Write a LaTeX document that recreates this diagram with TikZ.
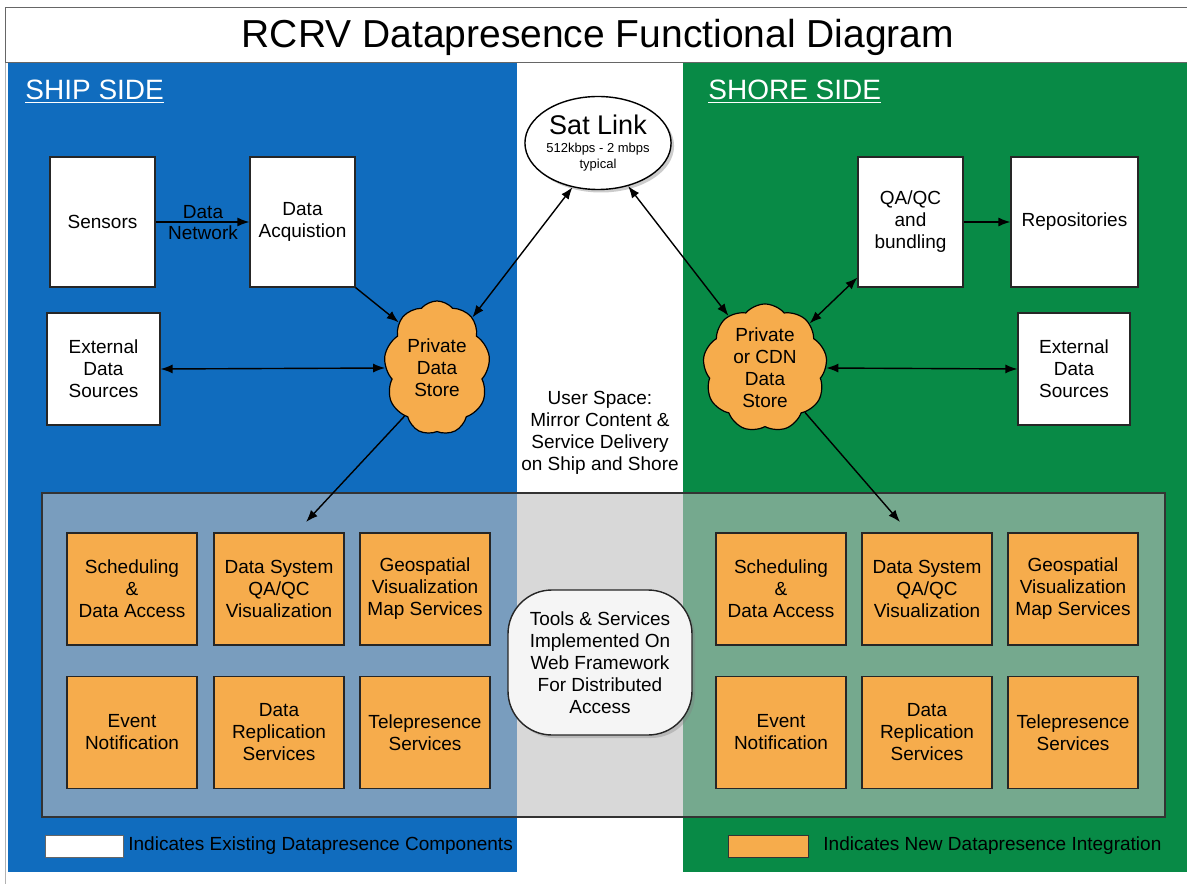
\documentclass[tikz,border=0pt]{standalone}
\usepackage{fontspec}
\setmainfont{Liberation Sans}
\usetikzlibrary{shapes.geometric,shapes.symbols,arrows.meta,shadows,calc}
\definecolor{shipblue}{RGB}{16,108,190}
\definecolor{shoregreen}{RGB}{8,138,70}
\definecolor{neworange}{RGB}{246,172,76}
\begin{document}
\begin{tikzpicture}[x=0.5pt,y=-0.5pt,
  txt/.style={font=\fontsize{9.5}{11}\selectfont, align=center},
  wbox/.style={txt, draw=black!85, line width=0.6pt, fill=white, inner sep=1pt},
  obox/.style={txt, draw=black!85, line width=0.6pt, fill=neworange, minimum width=65pt, minimum height=56pt, inner sep=1pt},
  store/.style={txt, cloud, cloud puffs=9, cloud puff arc=100, draw=black, line width=0.6pt, fill=neworange, inner sep=0pt},
  arr/.style={-{Latex[length=6pt,width=4.5pt]}, line width=0.7pt},
  darr/.style={{Latex[length=6pt,width=4.5pt]}-{Latex[length=6pt,width=4.5pt]}, line width=0.7pt},
  side/.style={font=\fontsize{14}{16}\selectfont, text=white, anchor=west, inner sep=0pt}]

\useasboundingbox (0,0) rectangle (1187,887);
\fill[white] (0,0) rectangle (1187,887);

% regions
\fill[shipblue] (8,63) rectangle (517,872);
\fill[shoregreen] (683,63) rectangle (1192,872);
\draw[black!60, line width=0.5pt] (5,8) rectangle (1195,63);
\draw[black!30, line width=0.5pt] (5,63) -- (5,884);
\node[font=\fontsize{19.5}{22}\selectfont] (title) at (598,37) {RCRV Datapresence Functional Diagram};

\node[side] (ship) at (25,92) {\underline{SHIP SIDE}};
\node[side] (shore) at (708,92) {\underline{SHORE SIDE}};

% sat link
\node[ellipse, draw=black, line width=0.7pt, fill=white, minimum width=66.5pt, minimum height=46.5pt, inner sep=0pt, align=center,
      drop shadow={shadow xshift=1.5pt, shadow yshift=-1.5pt, opacity=0.4},
      font=\fontsize{6.5}{8}\selectfont] (satlink) at (598,143)
  {{\fontsize{13.5}{15}\selectfont Sat Link}\\[1pt]512kbps - 2 mbps\\typical};

% ship side boxes
\node[wbox, minimum width=52.5pt, minimum height=65pt] (sensors) at (102.5,222) {Sensors};
\node[wbox, minimum width=52.5pt, minimum height=65pt] (dacq) at (302.5,222) {Data\\Acquistion};
\node[wbox, minimum width=56.5pt, minimum height=56pt] (extL) at (103.5,369) {External\\Data\\Sources};
\node[store, minimum width=53pt, minimum height=67pt] (cloudL) at (437,368) {Private\\Data\\Store};

% shore side boxes
\node[wbox, minimum width=52.5pt, minimum height=65pt] (qaqc) at (910.5,222) {QA/QC\\and\\bundling};
\node[wbox, minimum width=63.5pt, minimum height=65pt] (repo) at (1074.5,222) {Repositories};
\node[wbox, minimum width=56pt, minimum height=56pt] (extR) at (1074,369) {External\\Data\\Sources};
\node[store, minimum width=51pt, minimum height=64pt] (cloudR) at (765,368) {Private\\or CDN\\Data\\Store};

% middle text
\node[txt] (userspace) at (600,433) {User Space:\\Mirror Content \&\\Service Delivery\\on Ship and Shore};

% services frame
\node[draw=black!80, line width=0.7pt, fill=black!25, fill opacity=0.6, minimum width=561.5pt, minimum height=162pt, inner sep=0pt] (frame) at (603.5,655) {};

% service boxes ship
\node[obox] (schedL) at (132,589) {Scheduling\\\&\\Data Access};
\node[obox] (dsysL) at (279,589) {Data System\\QA/QC\\Visualization};
\node[obox] (geoL) at (425,589) {Geospatial\\Visualization\\Map Services};
\node[obox] (eventL) at (132,732.5) {Event\\Notification};
\node[obox] (replL) at (279,732.5) {Data\\Replication\\Services};
\node[obox] (teleL) at (425,732.5) {Telepresence\\Services};

% service boxes shore
\node[obox] (schedR) at (781,589) {Scheduling\\\&\\Data Access};
\node[obox] (dsysR) at (927,589) {Data System\\QA/QC\\Visualization};
\node[obox] (geoR) at (1073,589) {Geospatial\\Visualization\\Map Services};
\node[obox] (eventR) at (781,732.5) {Event\\Notification};
\node[obox] (replR) at (927,732.5) {Data\\Replication\\Services};
\node[obox] (teleR) at (1073,732.5) {Telepresence\\Services};

% tools box
\node[txt, draw=black!85, line width=0.7pt, fill=black!4, rounded corners=22pt, minimum width=92pt, minimum height=72.5pt, inner sep=0pt,
      drop shadow={shadow xshift=1.5pt, shadow yshift=-1.5pt, opacity=0.35}] (tools) at (600,662.5)
  {Tools \& Services\\Implemented On\\Web Framework\\For Distributed\\Access};

% legend
\node[draw=black!60, fill=white, minimum width=39pt, minimum height=11pt, inner sep=0pt] (legW) at (84,846) {};
\node[txt, anchor=west, text=black, inner sep=0pt] (legWt) at (128,846) {Indicates Existing Datapresence Components};
\node[draw=black!80, fill=neworange, minimum width=40pt, minimum height=11pt, inner sep=0pt] (legO) at (768,846) {};
\node[txt, anchor=west, text=black, inner sep=0pt] (legOt) at (823,846) {Indicates New Datapresence Integration};

% connectors
\coordinate (tipL) at (306,522);
\coordinate (tipR) at (900,522);
\draw[arr] (sensors.east) -- (dacq.west);
\node[txt, anchor=south, inner sep=1pt] (dn1) at (203,221) {Data};
\node[txt, anchor=north, inner sep=1pt] (dn2) at (203,223) {Network};
\draw[arr] (dacq.south east) -- (cloudL.130);
\draw[darr] (cloudL.55) -- (satlink.240);
\draw[darr] (extL.east) -- (cloudL.west);
\draw[arr] (cloudL.236) -- (tipL);

\draw[darr] (satlink.305) -- (cloudR.125);
\draw[darr] (cloudR.45) -- ([yshift=5pt]qaqc.south west);
\draw[darr] (cloudR.east) -- (extR.west);
\draw[arr] (qaqc.east) -- (repo.west);
\draw[arr] (cloudR.312) -- (tipR);
\end{tikzpicture}
\end{document}
